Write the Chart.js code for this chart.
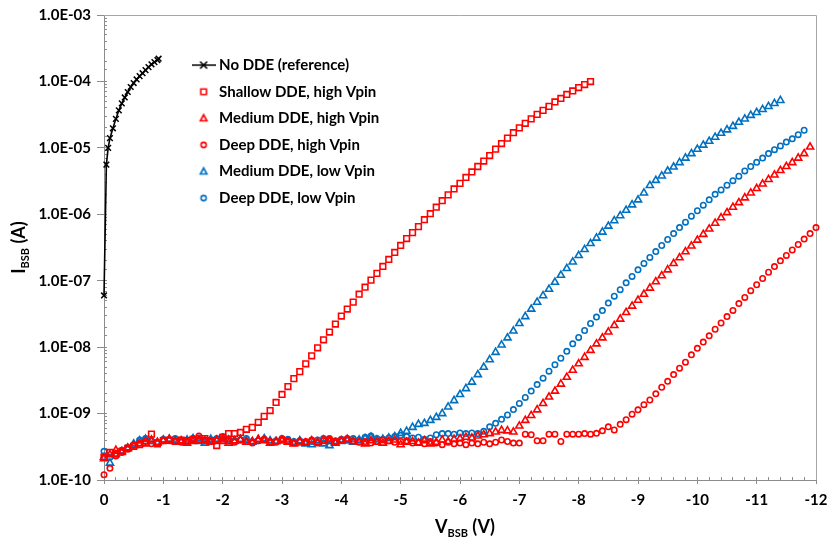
<!DOCTYPE html>
<html><head><meta charset="utf-8">
<script src="https://cdn.jsdelivr.net/npm/chart.js@4/dist/chart.umd.min.js"></script>
<style>html,body{margin:0;padding:0;background:#fff;}#wrap{width:829px;height:542px;}</style>
</head><body><div id="wrap"><canvas id="c" width="829" height="542"></canvas></div>
<script>
// ---- data (V_BSB in volts, I_BSB in amperes) ----
const vGrid = [0,-0.1,-0.2,-0.3,-0.4,-0.5,-0.6,-0.7,-0.8,-0.9,
 -1,-1.1,-1.2,-1.3,-1.4,-1.5,-1.6,-1.7,-1.8,-1.9,
 -2,-2.1,-2.2,-2.3,-2.4,-2.5,-2.6,-2.7,-2.8,-2.9,
 -3,-3.1,-3.2,-3.3,-3.4,-3.5,-3.6,-3.7,-3.8,-3.9,
 -4,-4.1,-4.2,-4.3,-4.4,-4.5,-4.6,-4.7,-4.8,-4.9,
 -5,-5.1,-5.2,-5.3,-5.4,-5.5,-5.6,-5.7,-5.8,-5.9,
 -6,-6.1,-6.2,-6.3,-6.4,-6.5,-6.6,-6.7,-6.8,-6.9,
 -7,-7.1,-7.2,-7.3,-7.4,-7.5,-7.6,-7.7,-7.8,-7.9,
 -8,-8.1,-8.2,-8.3,-8.4,-8.5,-8.6,-8.7,-8.8,-8.9,
 -9,-9.1,-9.2,-9.3,-9.4,-9.5,-9.6,-9.7,-9.8,-9.9,
 -10,-10.1,-10.2,-10.3,-10.4,-10.5,-10.6,-10.7,-10.8,-10.9,
 -11,-11.1,-11.2,-11.3,-11.4,-11.5,-11.6,-11.7,-11.8,-11.9,
 -12];

const noDdeV = [0,-0.04,-0.07,-0.1,-0.15,-0.2,-0.25,-0.3,-0.35,-0.4,-0.45,-0.5,-0.55,-0.6,-0.65,-0.7,-0.75,-0.8,-0.85,-0.9,-0.92];
const noDdeI = [6.0e-8,5.6e-6,1.0e-5,1.40e-5,1.97e-5,2.73e-5,3.67e-5,4.67e-5,5.74e-5,6.93e-5,8.24e-5,9.45e-5,1.07e-4,1.20e-4,1.33e-4,1.48e-4,1.64e-4,1.81e-4,1.95e-4,2.10e-4,2.20e-4];

const shallowHighI = [2.2e-10,2.6e-10,2.5e-10,2.7e-10,3.0e-10,3.2e-10,3.4e-10,3.6e-10,4.9e-10,3.5e-10,
 3.9e-10,4.0e-10,3.8e-10,4.0e-10,3.9e-10,4.1e-10,4.0e-10,4.2e-10,3.9e-10,3.3e-10,
 4.4e-10,5.0e-10,5.0e-10,5.2e-10,5.8e-10,6.2e-10,7.4e-10,9.1e-10,1.11e-9,1.47e-9,
 1.94e-9,2.55e-9,3.36e-9,4.28e-9,5.62e-9,7.41e-9,9.77e-9,1.29e-8,1.69e-8,2.23e-8,
 2.94e-8,3.74e-8,4.76e-8,6.27e-8,7.98e-8,1.02e-7,1.29e-7,1.64e-7,2.09e-7,2.66e-7,
 3.39e-7,4.31e-7,5.30e-7,6.52e-7,8.3e-7,1.02e-6,1.28e-6,1.60e-6,1.96e-6,2.41e-6,
 2.92e-6,3.59e-6,4.34e-6,5.24e-6,6.33e-6,7.65e-6,9.57e-6,1.16e-5,1.40e-5,1.69e-5,
 2.0e-5,2.34e-5,2.73e-5,3.19e-5,3.67e-5,4.21e-5,4.91e-5,5.54e-5,6.36e-5,7.18e-5,
 8.1e-5,8.97e-5,9.95e-5];

const mediumHighI = [2.1e-10,2.4e-10,2.8e-10,2.7e-10,3.0e-10,3.3e-10,3.5e-10,3.8e-10,4.0e-10,3.7e-10,
 3.9e-10,4.1e-10,3.8e-10,3.9e-10,3.6e-10,3.8e-10,4.0e-10,3.9e-10,3.7e-10,4.0e-10,
 3.8e-10,3.6e-10,3.9e-10,4.0e-10,3.7e-10,3.8e-10,4.1e-10,3.9e-10,3.6e-10,3.8e-10,
 3.9e-10,3.7e-10,3.5e-10,3.8e-10,3.6e-10,3.9e-10,3.7e-10,4.0e-10,3.8e-10,3.6e-10,
 3.9e-10,4.1e-10,3.8e-10,3.7e-10,3.5e-10,3.9e-10,3.7e-10,3.6e-10,3.8e-10,4.0e-10,
 3.4e-10,3.7e-10,3.8e-10,3.6e-10,3.9e-10,3.5e-10,3.7e-10,4.0e-10,3.8e-10,4.1e-10,
 4.2e-10,4.4e-10,4.3e-10,4.6e-10,4.8e-10,5.0e-10,5.3e-10,5.6e-10,5.5e-10,5.3e-10,
 6.5e-10,7.91e-10,9.39e-10,1.14e-9,1.42e-9,1.78e-9,2.18e-9,2.78e-9,3.53e-9,4.50e-9,
 5.62e-9,7.03e-9,8.95e-9,1.12e-8,1.38e-8,1.69e-8,2.12e-8,2.65e-8,3.32e-8,4.15e-8,
 5.10e-8,6.27e-8,7.76e-8,9.64e-8,1.19e-7,1.46e-7,1.82e-7,2.22e-7,2.73e-7,3.33e-7,
 4.09e-7,4.99e-7,6.03e-7,7.36e-7,8.89e-7,1.06e-6,1.28e-6,1.50e-6,1.77e-6,2.10e-6,
 2.45e-6,2.86e-6,3.35e-6,3.91e-6,4.56e-6,5.24e-6,6.01e-6,7.02e-6,8.2e-6,1.03e-5];

const deepHighI = [1.2e-10,1.5e-10,2.3e-10,2.6e-10,2.9e-10,3.3e-10,3.6e-10,3.8e-10,3.5e-10,3.7e-10,
 3.9e-10,4.0e-10,3.8e-10,3.7e-10,3.9e-10,4.2e-10,4.6e-10,4.0e-10,3.8e-10,3.9e-10,
 4.1e-10,3.9e-10,3.7e-10,4.0e-10,3.8e-10,3.6e-10,3.9e-10,4.1e-10,3.8e-10,3.7e-10,
 4.2e-10,3.9e-10,3.6e-10,3.7e-10,3.8e-10,4.0e-10,3.6e-10,3.9e-10,4.2e-10,3.8e-10,
 4.0e-10,4.2e-10,3.9e-10,3.7e-10,3.8e-10,3.6e-10,3.8e-10,4.0e-10,3.9e-10,3.7e-10,
 3.8e-10,3.9e-10,3.6e-10,3.7e-10,3.5e-10,3.8e-10,3.6e-10,3.4e-10,3.7e-10,3.5e-10,
 3.6e-10,3.4e-10,3.6e-10,3.5e-10,3.7e-10,3.5e-10,3.7e-10,4.0e-10,3.8e-10,3.6e-10,
 3.6e-10,4.9e-10,4.8e-10,3.9e-10,3.9e-10,4.9e-10,4.9e-10,3.8e-10,4.9e-10,4.9e-10,
 4.9e-10,5.0e-10,4.9e-10,5.05e-10,5.5e-10,6.31e-10,5.66e-10,6.89e-10,8.09e-10,9.78e-10,
 1.14e-9,1.36e-9,1.60e-9,1.98e-9,2.49e-9,3.06e-9,3.86e-9,4.82e-9,5.93e-9,7.67e-9,
 9.59e-9,1.19e-8,1.48e-8,1.86e-8,2.31e-8,2.89e-8,3.57e-8,4.52e-8,5.61e-8,7.08e-8,
 8.69e-8,1.08e-7,1.34e-7,1.63e-7,1.99e-7,2.40e-7,2.90e-7,3.51e-7,4.24e-7,5.13e-7,
 6.30e-7];

const mediumLowI = [2.2e-10,1.8e-10,2.4e-10,2.6e-10,3.0e-10,3.5e-10,3.9e-10,4.1e-10,3.8e-10,3.6e-10,
 4.0e-10,4.1e-10,3.9e-10,3.7e-10,4.0e-10,4.2e-10,3.8e-10,3.6e-10,4.1e-10,3.9e-10,
 4.2e-10,4.0e-10,3.8e-10,4.1e-10,3.9e-10,3.7e-10,4.0e-10,4.2e-10,3.9e-10,3.8e-10,
 4.0e-10,3.8e-10,3.6e-10,3.9e-10,3.5e-10,3.4e-10,3.7e-10,3.5e-10,3.3e-10,3.6e-10,
 3.8e-10,3.9e-10,3.7e-10,4.0e-10,4.2e-10,4.4e-10,4.0e-10,4.1e-10,4.3e-10,4.5e-10,
 5.05e-10,5.41e-10,6.21e-10,6.89e-10,7.13e-10,7.91e-10,8.77e-10,1.0e-9,1.26e-9,1.57e-9,
 1.94e-9,2.38e-9,2.98e-9,3.86e-9,4.99e-9,6.46e-9,8.36e-9,1.08e-8,1.38e-8,1.75e-8,
 2.27e-8,2.89e-8,3.74e-8,4.76e-8,5.96e-8,7.45e-8,9.48e-8,1.21e-7,1.53e-7,1.92e-7,
 2.40e-7,2.95e-7,3.63e-7,4.39e-7,5.40e-7,6.64e-7,8.02e-7,9.53e-7,1.15e-6,1.39e-6,
 1.65e-6,2.1e-6,2.72e-6,3.24e-6,3.78e-6,4.49e-6,5.15e-6,6.01e-6,7.02e-6,8.2e-6,
 9.57e-6,1.10e-5,1.26e-5,1.45e-5,1.66e-5,1.87e-5,2.11e-5,2.43e-5,2.73e-5,3.09e-5,
 3.42e-5,3.79e-5,4.21e-5,4.67e-5,5.18e-5];

const deepLowI = [2.7e-10,2.2e-10,2.5e-10,2.8e-10,3.1e-10,3.4e-10,4.0e-10,4.2e-10,3.9e-10,3.7e-10,
 4.1e-10,3.9e-10,4.2e-10,4.0e-10,3.8e-10,4.1e-10,4.3e-10,3.9e-10,4.0e-10,4.2e-10,
 4.5e-10,4.1e-10,3.9e-10,4.0e-10,4.2e-10,3.8e-10,3.9e-10,4.1e-10,3.7e-10,3.9e-10,
 4.0e-10,4.1e-10,3.8e-10,3.9e-10,3.7e-10,3.8e-10,4.0e-10,4.2e-10,4.0e-10,3.9e-10,
 4.1e-10,4.0e-10,4.2e-10,4.0e-10,4.4e-10,4.6e-10,4.2e-10,4.1e-10,4.3e-10,4.5e-10,
 4.7e-10,4.5e-10,4.3e-10,4.4e-10,4.1e-10,4.3e-10,4.8e-10,5.0e-10,5.0e-10,4.9e-10,
 5.1e-10,5.0e-10,5.1e-10,5.0e-10,5.41e-10,6.31e-10,7.13e-10,8.18e-10,9.55e-10,1.15e-9,
 1.42e-9,1.75e-9,2.18e-9,2.73e-9,3.41e-9,4.35e-9,5.43e-9,6.80e-9,8.65e-9,1.12e-8,
 1.40e-8,1.78e-8,2.27e-8,2.84e-8,3.55e-8,4.60e-8,5.85e-8,7.33e-8,9.31e-8,1.16e-7,
 1.46e-7,1.82e-7,2.24e-7,2.75e-7,3.39e-7,4.17e-7,5.13e-7,6.30e-7,7.62e-7,9.36e-7,
 1.13e-6,1.37e-6,1.65e-6,2.0e-6,2.33e-6,2.74e-6,3.21e-6,3.75e-6,4.49e-6,5.24e-6,
 6.05e-6,7.02e-6,8.2e-6,9.4e-6,1.07e-5,1.22e-5,1.37e-5,1.58e-5,1.84e-5];

const seriesLabels = ['No DDE (reference)','Shallow DDE, high Vpin','Medium DDE, high Vpin','Deep DDE, high Vpin','Medium DDE, low Vpin','Deep DDE, low Vpin'];
const yTickValues = [1e-10,1e-9,1e-8,1e-7,1e-6,1e-5,1e-4,1e-3];
const yTickLabels = ['1.0E-10','1.0E-09','1.0E-08','1.0E-07','1.0E-06','1.0E-05','1.0E-04','1.0E-03'];
const xTickValues = [-12,-11,-10,-9,-8,-7,-6,-5,-4,-3,-2,-1,0];
const xTickLabels = ['-12','-11','-10','-9','-8','-7','-6','-5','-4','-3','-2','-1','0'];
const xTitleParts = ['V','BSB',' (V)'];
const yTitleParts = ['I','BSB',' (A)'];

// ---- styling ----
const RED = '#FF0000', BLUE = '#0070C0', AXIS = '#8C8C8C';
const FONT = 'Lato';
const onGrid = arr => arr.map((y, i) => ({x: vGrid[i], y}));

function makeIcon(kind, color) {
  const c = document.createElement('canvas'); c.width = 24; c.height = 14;
  const g = c.getContext('2d'); g.strokeStyle = color; g.lineWidth = 1.6;
  const cx = 12, cy = 7; g.beginPath();
  if (kind === 'linex') {
    g.moveTo(0, cy); g.lineTo(24, cy);
    g.moveTo(cx-3.5, cy-3.5); g.lineTo(cx+3.5, cy+3.5); g.moveTo(cx+3.5, cy-3.5); g.lineTo(cx-3.5, cy+3.5);
  } else if (kind === 'rect') { g.rect(cx-2.8, cy-2.8, 5.6, 5.6); }
  else if (kind === 'triangle') { g.moveTo(cx, cy-3.5); g.lineTo(cx+3.3, cy+2.5); g.lineTo(cx-3.3, cy+2.5); g.closePath(); }
  else { g.arc(cx, cy, 2.6, 0, Math.PI*2); }
  g.stroke(); return c;
}
const legendIcons = [makeIcon('linex','#000'), makeIcon('rect',RED), makeIcon('triangle',RED), makeIcon('circle',RED), makeIcon('triangle',BLUE), makeIcon('circle',BLUE)];

function markerSet(label, data, style, color, r) {
  return {label, data, showLine:false, pointStyle:style, pointRadius:r, pointBorderWidth:1.6,
    pointBorderColor:color, pointBackgroundColor:'rgba(0,0,0,0)', borderColor:color, clip:false,
    xAxisID:'x', yAxisID:'y'};
}

const datasets = [
  {label: seriesLabels[0], data: noDdeV.map((v,i)=>({x:v, y:noDdeI[i]})), showLine:true, borderColor:'#000', borderWidth:1.6,
   pointStyle:'crossRot', pointRadius:4, pointBorderWidth:1.5, pointBorderColor:'#000', pointBackgroundColor:'#000', tension:0, clip:false, xAxisID:'x', yAxisID:'y'},
  markerSet(seriesLabels[1], onGrid(shallowHighI), 'rect', RED, 4),
  markerSet(seriesLabels[2], onGrid(mediumHighI), 'triangle', RED, 4.1),
  markerSet(seriesLabels[3], onGrid(deepHighI), 'circle', RED, 2.7),
  markerSet(seriesLabels[4], onGrid(mediumLowI), 'triangle', BLUE, 4.1),
  markerSet(seriesLabels[5], onGrid(deepLowI), 'circle', BLUE, 2.7)
];

function drawTitle(ctx, parts, cx, cy, rotate) {
  const main = 'bold 18px ' + FONT, sub = 'bold 11px ' + FONT;
  const segs = parts.map((t, i) => ({t, f: i === 1 ? sub : main, dy: i === 1 ? 4 : 0}));
  ctx.save(); ctx.translate(cx, cy); if (rotate) ctx.rotate(-Math.PI/2);
  let total = 0; segs.forEach(s => { ctx.font = s.f; s.w = ctx.measureText(s.t).width; total += s.w; });
  let x = -total/2; ctx.fillStyle = '#000'; ctx.textBaseline = 'alphabetic'; ctx.textAlign = 'left';
  segs.forEach(s => { ctx.font = s.f; ctx.fillText(s.t, x, s.dy); x += s.w; });
  ctx.restore();
}

const framePlugin = {
  id: 'frame',
  afterLayout(chart) {
    const lg = chart.legend, a = chart.chartArea;
    if (lg) { const w = lg.width, h = lg.height; lg.left = a.left + 80; lg.top = a.top + 31; lg.right = lg.left + w; lg.bottom = lg.top + h; }
  },
  beforeDatasetsDraw(chart) {
    const {ctx, chartArea: a} = chart;
    ctx.save(); ctx.strokeStyle = '#A6A6A6'; ctx.lineWidth = 1; ctx.beginPath();
    ctx.moveTo(a.left, a.top + 0.5); ctx.lineTo(Math.round(a.right) + 0.5, a.top + 0.5); ctx.lineTo(Math.round(a.right) + 0.5, a.bottom);
    ctx.stroke(); ctx.restore();
  },
  afterDraw(chart) {
    const {ctx, chartArea: a} = chart;
    drawTitle(ctx, xTitleParts, (a.left + a.right)/2 + 5, 533, false);
    drawTitle(ctx, yTitleParts, 25, (a.top + a.bottom)/2, true);
  }
};

const tickFont = {family: FONT, weight: 'bold', size: 15};

new Chart(document.getElementById('c'), {
  type: 'scatter',
  data: {datasets},
  plugins: [framePlugin],
  options: {
    responsive: false, animation: false, events: [],
    layout: {padding: {left: 0, top: 12, right: 13, bottom: 0}},
    plugins: {
      tooltip: {enabled: false},
      title: {display: false},
      legend: {
        display: true, position: 'chartArea', align: 'start',
        labels: {
          usePointStyle: true, pointStyleWidth: 16, padding: 11.6, color: '#000',
          font: {family: FONT, weight: 'bold', size: 15},
          generateLabels: chart => chart.data.datasets.map((ds, i) => ({
            text: ds.label, pointStyle: legendIcons[i], datasetIndex: i, hidden: false,
            fillStyle: 'rgba(0,0,0,0)', strokeStyle: 'rgba(0,0,0,0)', lineWidth: 0, fontColor: '#000'}))
        }
      }
    },
    scales: {
      x: {
        type: 'linear', position: 'bottom', min: -12, max: 0, reverse: true, weight: 2,
        afterBuildTicks: s => { s.ticks = xTickValues.map(v => ({value: v})); },
        afterFit: s => { s.height = 62; },
        ticks: {autoSkip: false, maxRotation: 0, padding: 7, color: '#000', font: tickFont, callback: (v, i) => xTickLabels[i]},
        grid: {drawOnChartArea: false, drawTicks: true, tickLength: 4, color: AXIS, tickColor: AXIS},
        border: {display: true, color: AXIS, width: 1}
      },
      xMinor: {
        type: 'linear', position: 'bottom', min: -12, max: 0, reverse: true, weight: 1,
        afterFit: s => { s.height = 0; },
        ticks: {display: false, stepSize: 0.2},
        grid: {drawOnChartArea: false, drawTicks: true, tickLength: -3, color: AXIS, tickColor: AXIS},
        border: {display: false}
      },
      y: {
        type: 'logarithmic', position: 'left', min: 1e-10, max: 1e-3, weight: 2,
        afterBuildTicks: s => { s.ticks = yTickValues.map(v => ({value: v})); },
        afterFit: s => { s.width = 104; },
        ticks: {autoSkip: false, padding: 6, color: '#000', font: tickFont, callback: (v, i) => yTickLabels[i]},
        grid: {drawOnChartArea: false, drawTicks: true, tickLength: 7, color: AXIS, tickColor: AXIS},
        border: {display: true, color: AXIS, width: 1}
      },
      yMinor: {
        type: 'logarithmic', position: 'left', min: 1e-10, max: 1e-3, weight: 1,
        afterFit: s => { s.width = 0; },
        ticks: {display: false},
        grid: {drawOnChartArea: false, drawTicks: true, tickLength: -3, color: AXIS, tickColor: AXIS},
        border: {display: false}
      }
    }
  }
});
</script>
</body></html>
